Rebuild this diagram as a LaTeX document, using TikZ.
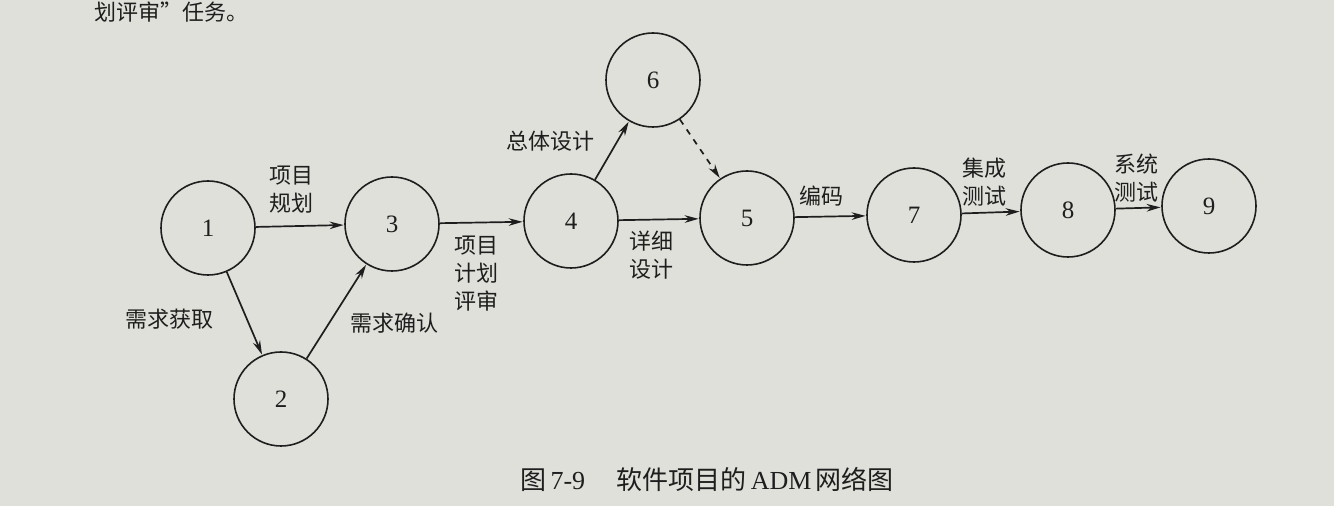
\documentclass[tikz,border=0pt]{standalone}
\usepackage{fontspec}
\setmainfont{Liberation Serif}
\newfontfamily\cjk{Noto Sans CJK SC}
\usetikzlibrary{arrows.meta}
\definecolor{paper}{RGB}{224,224,219}
\definecolor{ink}{RGB}{30,30,30}
\tikzset{
  ev/.style={circle,draw=ink,line width=0.8pt,minimum size=47pt,inner sep=0pt,font=\fontsize{12.5}{14}\selectfont,text=ink},
  act/.style={draw=ink,line width=0.85pt,-{Stealth[length=7pt,width=3.8pt]},shorten >=0.3pt},
  dummy/.style={act,dashed},
  lab/.style={font=\cjk\fontsize{11}{14}\selectfont,text=ink,align=center,inner sep=0pt}
}
\begin{document}
\begin{tikzpicture}[x=0.5pt,y=-0.5pt]
\fill[paper] (0,0) rectangle (1334,506);
\useasboundingbox (0,0) rectangle (1334,506);
\node[lab,anchor=north west,font=\cjk\fontsize{11}{13}\selectfont] (top) at (94,1) {划评审”任务。};
\node[ev] (n1) at (208,228) {1};
\node[ev] (n2) at (281,399) {2};
\node[ev] (n3) at (392,224) {3};
\node[ev] (n4) at (571,221) {4};
\node[ev] (n6) at (653,80) {6};
\node[ev] (n5) at (747,218) {5};
\node[ev] (n7) at (914,215) {7};
\node[ev] (n8) at (1068,210) {8};
\node[ev] (n9) at (1209,206) {9};
\draw[act] (n1) -- (n3);
\draw[act] (n1) -- (n2);
\draw[act] (n2) -- (n3);
\draw[act] (n3) -- (n4);
\draw[act] (n4) -- (n6);
\draw[dummy] (n6) -- (n5);
\draw[act] (n4) -- (n5);
\draw[act] (n5) -- (n7);
\draw[act] (n7) -- (n8);
\draw[act] (n8) -- (n9);
\node[lab] (l13) at (291,190) {项目\\规划};
\node[lab] (l34) at (476,274) {项目\\计划\\评审};
\node[lab] (l12) at (169,319) {需求获取};
\node[lab] (l23) at (394,323) {需求确认};
\node[lab] (l46) at (550,141) {总体设计};
\node[lab] (l45) at (651,255) {详细\\设计};
\node[lab] (l57) at (821,196) {编码};
\node[lab] (l78) at (984,182) {集成\\测试};
\node[lab] (l89) at (1136,178) {系统\\测试};
\node[font=\fontsize{13}{15}\selectfont,text=ink,inner sep=0pt] (cap) at (707,479) {{\cjk 图}\,7-9\hspace{1.2em}{\cjk 软件项目的}\,ADM\,{\cjk 网络图}};
\end{tikzpicture}
\end{document}
